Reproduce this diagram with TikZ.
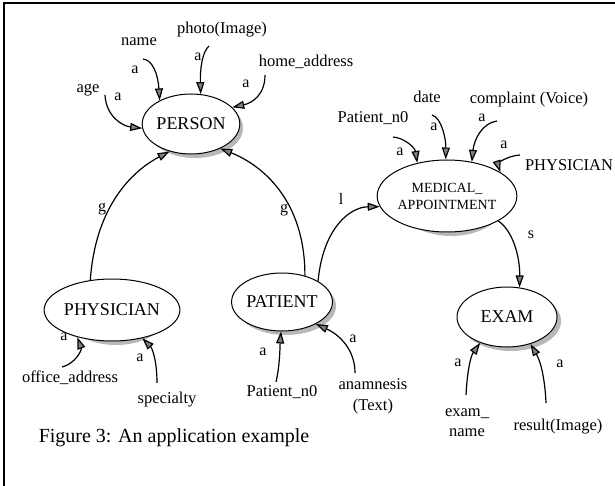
\documentclass[tikz,border=0pt]{standalone}
\usepackage{fontspec}
\setmainfont{Liberation Serif}
\usetikzlibrary{shapes.geometric,arrows.meta,backgrounds}

\tikzset{
  ent/.style={ellipse, draw, line width=1pt, fill=white, inner sep=0pt,
    font=\fontsize{18}{20}\selectfont},
  entshadow/.style={fill=black!28},
  attr/.style={inner sep=0pt, align=center, font=\fontsize{16.5}{21}\selectfont},
  lab/.style={inner sep=0pt, font=\fontsize{16}{18}\selectfont},
  arr/.style={line width=1.2pt, -{Triangle[length=12pt,width=8pt,fill=gray]}},
}

\begin{document}
\begin{tikzpicture}[x=1pt, y=-1pt]
\useasboundingbox (0,0) rectangle (615,486);

% page frame (top and left edges)
\draw[line width=1.4pt] (4,486) -- (4,3) -- (615,3);

% entities
\node[ent, minimum width=96pt, minimum height=60pt] (person) at (191,124) {PERSON};
\node[ent, minimum width=102pt, minimum height=62pt] (physician) at (112,310) {PHYSICIAN};
\node[ent, minimum width=100pt, minimum height=58pt] (patient) at (282,302) {PATIENT};
\node[ent, minimum width=110pt, minimum height=72pt, align=center,
      font=\fontsize{14}{17}\selectfont] (medapp) at (447,196) {MEDICAL\_\\APPOINTMENT};
\node[ent, minimum width=100pt, minimum height=60pt] (exam) at (507,317) {EXAM};

% shadows behind the entities
\begin{scope}[on background layer]
  \fill[entshadow] ([shift={(4,4)}]person.center)    ellipse [x radius=48pt, y radius=30pt];
  \fill[entshadow] ([shift={(4,4)}]physician.center) ellipse [x radius=51pt, y radius=31pt];
  \fill[entshadow] ([shift={(4,4)}]patient.center)   ellipse [x radius=50pt, y radius=29pt];
  \fill[entshadow] ([shift={(4,4)}]medapp.center)    ellipse [x radius=55pt, y radius=36pt];
  \fill[entshadow] ([shift={(4,4)}]exam.center)      ellipse [x radius=50pt, y radius=30pt];
\end{scope}

% attribute names
\node[attr] (tAge)    at (88,90)   {age};
\node[attr] (tName)   at (139,42)  {name};
\node[attr] (tPhoto)  at (222,30)  {photo(Image)};
\node[attr] (tHome)   at (306,62)  {home\_address};
\node[attr] (tPnoM)   at (373,118) {Patient\_n0};
\node[attr] (tDate)   at (427,97)  {date};
\node[attr] (tCompl)  at (529,100) {complaint (Voice)};
\node[attr] (tPhysM)  at (569,165) {PHYSICIAN};
\node[attr] (tOffice) at (70,378)  {office\_address};
\node[attr] (tSpec)   at (167,400) {specialty};
\node[attr] (tPnoP)   at (282,392) {Patient\_n0};
\node[attr] (tAnam)   at (373,396) {anamnesis\\(Text)};
\node[attr, font=\fontsize{16.5}{20}\selectfont] (tExName) at (467,423) {exam\_\\name};
\node[attr] (tResult) at (558,427) {result(Image)};

% caption
\node[inner sep=0pt, font=\fontsize{20}{22}\selectfont] (caption) at (174,438) {Figure 3: An application example};

% connector tails
\coordinate (sAge)    at (105,95);
\coordinate (sName)   at (143,59);
\coordinate (sPhoto)  at (209,46);
\coordinate (sHome)   at (265,75);
\coordinate (sPnoM)   at (393,137);
\coordinate (sDate)   at (432,115);
\coordinate (sCompl)  at (497,121);
\coordinate (sPhysM)  at (520,155);
\coordinate (sOffice) at (62,367);
\coordinate (sSpec)   at (157,383);
\coordinate (sPnoP)   at (276,382);
\coordinate (sAnam)   at (355,373);
\coordinate (sExName) at (466,395);
\coordinate (sResult) at (546,403);

% attributes of PERSON
\draw[arr] (sAge)   .. controls (106,116) and (122,126) .. (person.185);
\draw[arr] (sName)  .. controls (153,60) and (158,75) .. (person.143);
\draw[arr] (sPhoto) .. controls (202,52) and (200,70) .. (person.72);
\draw[arr] (sHome)  .. controls (265,95) and (252,103) .. (person.22);

% generalisations
\draw[arr] (physician.126) .. controls (96,200) and (138,168) .. (person.232);
\draw[arr] (patient.49)    .. controls (305,200) and (262,165) .. (person.320);

% PATIENT to MEDICAL_APPOINTMENT, MEDICAL_APPOINTMENT to EXAM
\draw[arr] (patient.30) .. controls (323,228) and (350,207) .. (medapp.189);
\draw[arr] (medapp.334) .. controls (512,230) and (520,255) .. (exam.67);

% attributes of MEDICAL_APPOINTMENT
\draw[arr] (sPnoM)  .. controls (405,138) and (415,148) .. (medapp.132);
\draw[arr] (sDate)  .. controls (442,118) and (446,140) .. (medapp.92);
\draw[arr] (sCompl) .. controls (482,123) and (474,140) .. (medapp.54);
\draw[arr] (sPhysM) .. controls (505,156) and (498,165) .. (medapp.24);

% attributes of PHYSICIAN
\draw[arr] (sOffice) .. controls (75,364) and (82,350) .. (physician.218);
\draw[arr] (sSpec)   .. controls (157,360) and (152,348) .. (physician.317);

% attributes of PATIENT
\draw[arr] (sPnoP) .. controls (280,365) and (280,345) .. (patient.268);
\draw[arr] (sAnam) .. controls (355,350) and (340,335) .. (patient.327);

% attributes of EXAM
\draw[arr] (sExName) .. controls (467,375) and (470,357) .. (exam.224);
\draw[arr] (sResult) .. controls (545,380) and (541,362) .. (exam.311);

% connector labels
\node[lab] (lAge)    at (118,97)  {a};
\node[lab] (lName)   at (135,70)  {a};
\node[lab] (lPhoto)  at (198,57)  {a};
\node[lab] (lHome)   at (246,84)  {a};
\node[lab] (lGen1)   at (102,209) {g};
\node[lab] (lGen2)   at (284,210) {g};
\node[lab] (lLink)   at (341,199) {l};
\node[lab] (lSub)    at (531,235) {s};
\node[lab] (lPnoM)   at (400,152) {a};
\node[lab] (lDate)   at (434,127) {a};
\node[lab] (lCompl)  at (482,118) {a};
\node[lab] (lPhysM)  at (504,145) {a};
\node[lab] (lOffice) at (64,337)  {a};
\node[lab] (lSpec)   at (140,358) {a};
\node[lab] (lPnoP)   at (263,352) {a};
\node[lab] (lAnam)   at (353,339) {a};
\node[lab] (lExName) at (458,363) {a};
\node[lab] (lResult) at (560,364) {a};
\end{tikzpicture}
\end{document}
